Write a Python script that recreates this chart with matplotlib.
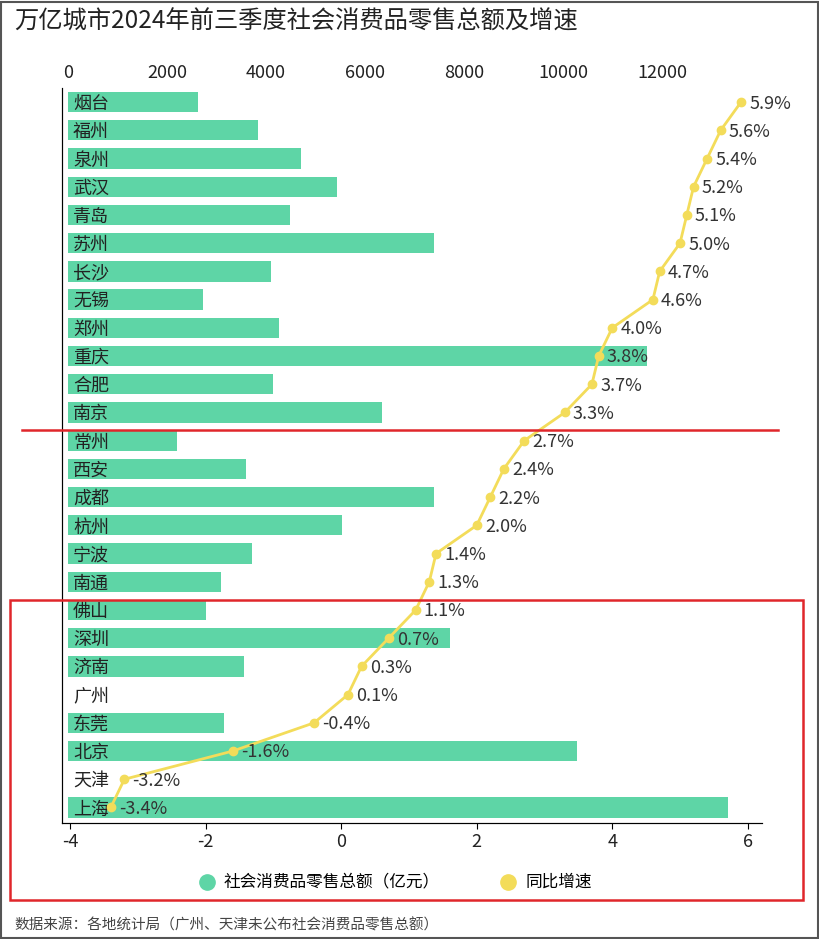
import matplotlib
matplotlib.use("Agg")
import matplotlib.pyplot as plt
from matplotlib.patches import Rectangle
from matplotlib.lines import Line2D
import numpy as np

plt.rcParams["font.family"] = ["Noto Sans CJK SC"]

cities = ["烟台","福州","泉州","武汉","青岛","苏州","长沙","无锡","郑州","重庆","合肥","南京",
          "常州","西安","成都","杭州","宁波","南通","佛山","深圳","济南","广州","东莞","北京","天津","上海"]
sales = [2630,3840,4700,5430,4480,7390,4100,2730,4260,11700,4140,6340,
         2200,3600,7390,5540,3720,3090,2790,7720,3560,np.nan,3150,10280,np.nan,13330]
growth = [5.9,5.6,5.4,5.2,5.1,5.0,4.7,4.6,4.0,3.8,3.7,3.3,
          2.7,2.4,2.2,2.0,1.4,1.3,1.1,0.7,0.3,0.1,-0.4,-1.6,-3.2,-3.4]
top_ticks = [0,2000,4000,6000,8000,10000,12000]
bottom_ticks = [-4,-2,0,2,4,6]

W, H = 820, 939
fig = plt.figure(figsize=(W/100, H/100), dpi=100)
ax = fig.add_axes([62/W, 1-823/H, 700/W, (823-88)/H])
y = np.arange(len(cities))
ax.barh(y, np.nan_to_num(sales), height=0.72, color="#5ed5a6", zorder=1)
ax.set_xlim(-121, 14020)
ax.set_ylim(len(cities)-0.5+0.05, -0.5)
ax.set_yticks(y)
ax.set_yticklabels(cities, fontsize=13, color="#222222")
ax.tick_params(axis="y", length=0)
for s in ax.spines.values():
    s.set_color("#333333"); s.set_linewidth(0.8)
ax.spines["top"].set_visible(False)
ax.spines["right"].set_visible(False)

ax2 = ax.twiny()
ax2.set_xlim(-4.12, 6.21)
ax2.plot(growth, y, color="#f3dc5a", lw=2, marker="o", ms=6, zorder=3)
for g, yy in zip(growth, y):
    ax2.text(g+0.12, yy+0.05, f"{g:.1f}%", fontsize=13, va="center", ha="left", color="#333333", zorder=4)
ax2.set_ylim(ax.get_ylim())
ax2.spines["top"].set_visible(False)
ax2.spines["right"].set_visible(False)
ax2.xaxis.set_ticks_position("bottom")
ax2.set_xticks(bottom_ticks)
ax2.set_xticklabels([str(t) for t in bottom_ticks], fontsize=13, color="#222222")
ax2.tick_params(axis="x", length=4)

ax.xaxis.set_ticks_position("top")
ax.set_xticks(top_ticks)
ax.set_xticklabels([str(t) for t in top_ticks], fontsize=13, color="#222222")
ax.tick_params(axis="x", length=0, pad=4)
for lab in ax.get_yticklabels():
    lab.set_horizontalalignment("left")
ax.yaxis.set_tick_params(pad=-8)

fig.text(14/W, 1-22/H, "万亿城市2024年前三季度社会消费品零售总额及增速", fontsize=17.5, va="center", ha="left", color="#222222")
fig.text(14/W, 1-925/H, "数据来源：各地统计局（广州、天津未公布社会消费品零售总额）", fontsize=10.5, va="center", ha="left", color="#444444")

fig.add_artist(Line2D([207/W],[1-882/H], marker="o", ms=11, color="#5ed5a6", ls="none"))
fig.text(224/W, 1-882/H, "社会消费品零售总额（亿元）", fontsize=12, va="center")
fig.add_artist(Line2D([508/W],[1-882/H], marker="o", ms=11, color="#f3dc5a", ls="none"))
fig.text(526/W, 1-882/H, "同比增速", fontsize=12, va="center")

fig.add_artist(Line2D([22/W, 778/W], [1-430/H, 1-430/H], color="#e0262b", lw=1.8))
fig.add_artist(Rectangle((10/W, 1-900/H), 793/W, 300/H, fill=False, ec="#e0262b", lw=1.8))
fig.add_artist(Rectangle((1/W, 1/H), (W-3)/W, (H-3)/H, fill=False, ec="#555555", lw=1.5))

fig.savefig("out.png", dpi=100)
